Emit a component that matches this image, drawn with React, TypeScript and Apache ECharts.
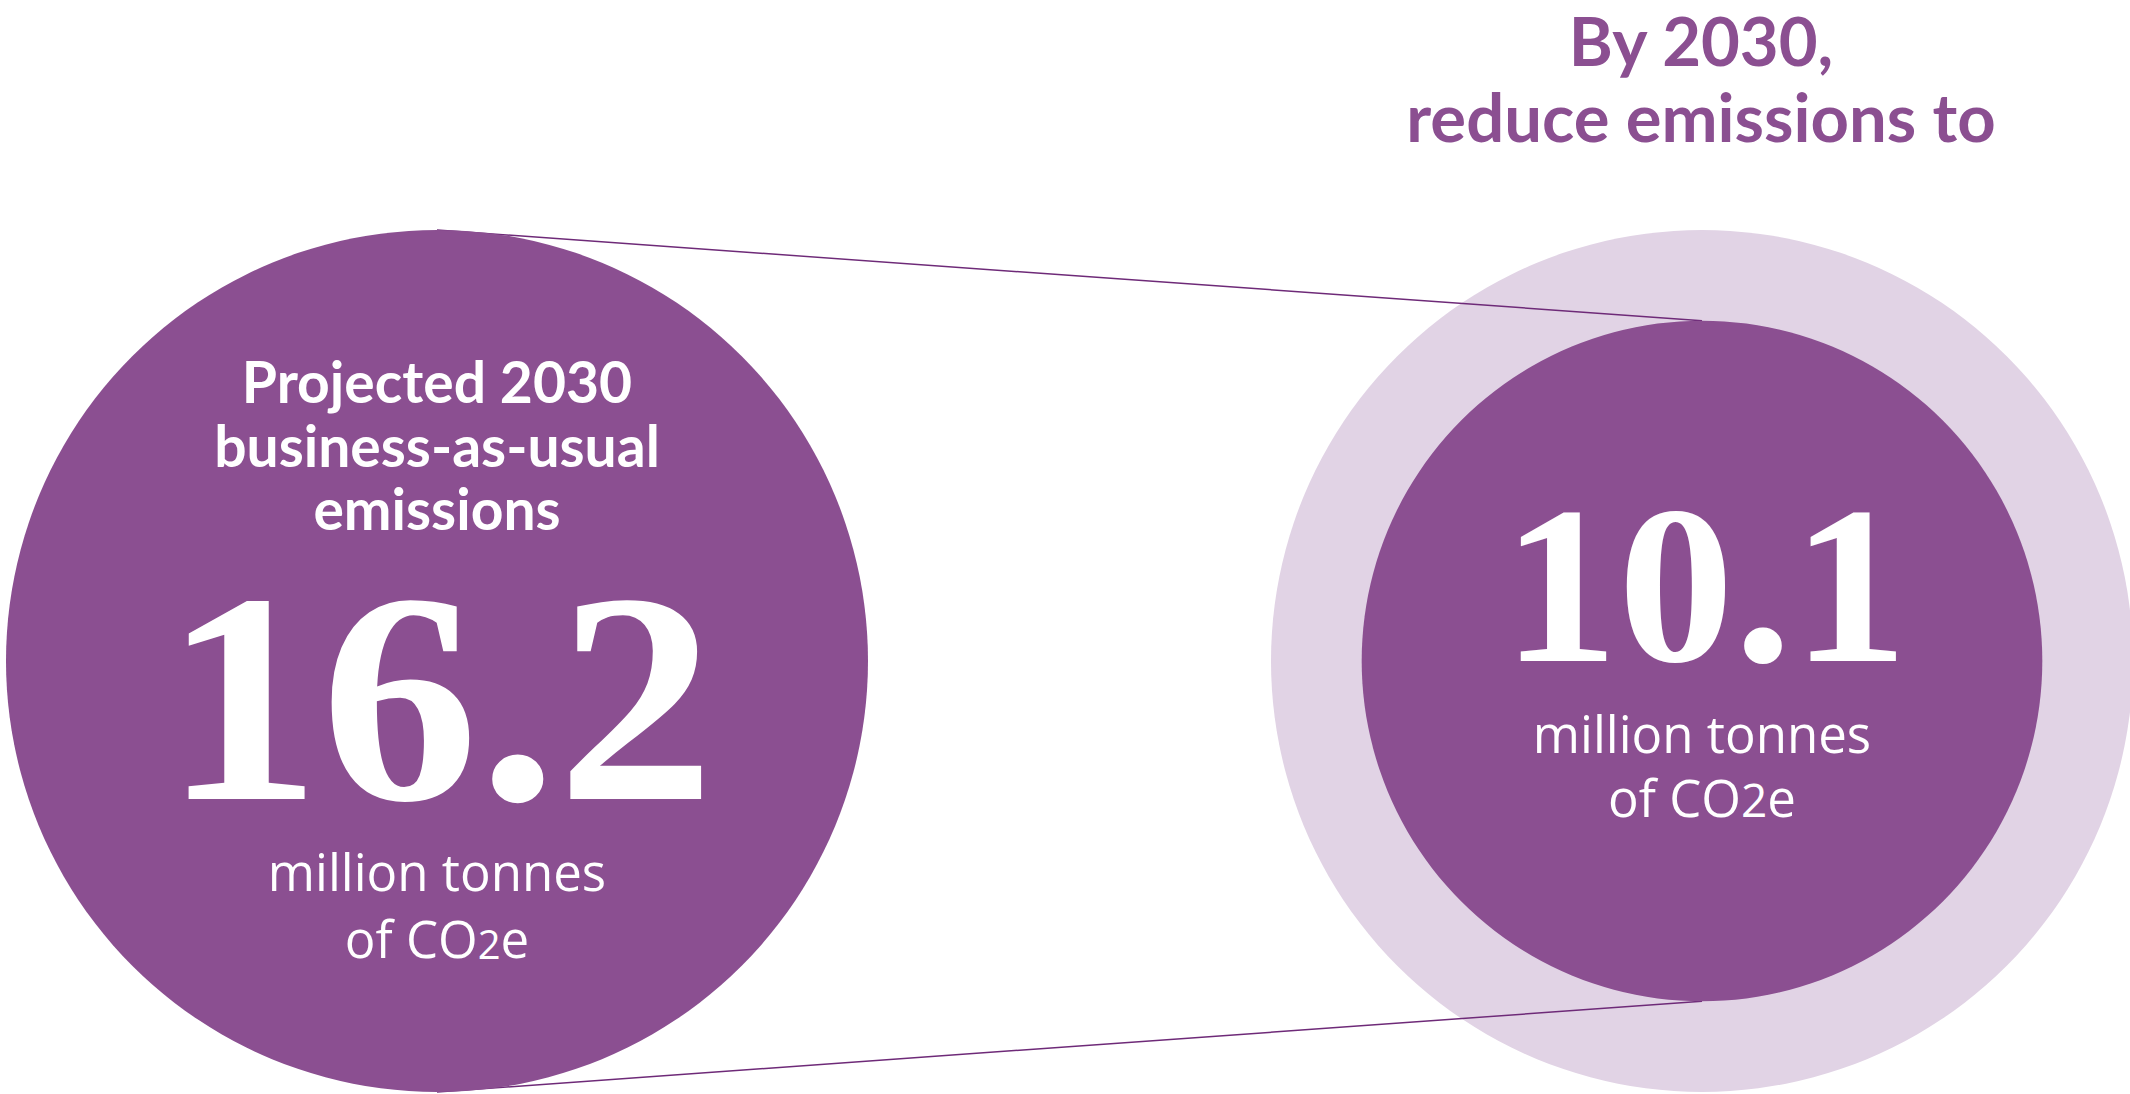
import React, { useEffect, useRef } from "react";
import * as echarts from "echarts";

// ---- data ----
const categories = ["Projected 2030 business-as-usual emissions", "2030 target"];
const emissions = [16.2, 10.1]; // million tonnes of CO2e
const referenceValue = 16.2; // business-as-usual level shown behind the target
const titleLines = ["By 2030,", "reduce emissions to"];
const headingLines = ["Projected 2030", "business-as-usual", "emissions"];
const unitLines = ["million tonnes", "of CO"];

const PURPLE = "#8b4f91";
const LIGHT = "#e1d3e5";
const LINE = "#6e2a78";
const MAX_RADIUS = 431; // pixel radius of the largest value (area-proportional)

const radiusOf = (v: number) => MAX_RADIUS * Math.sqrt(v / referenceValue);

export default function App() {
  const ref = useRef<HTMLDivElement>(null);
  useEffect(() => {
    if (!ref.current) return;
    const chart = echarts.init(ref.current, undefined, { renderer: "svg" });
    const Y = 0.5;
    const option: any = {
      animation: false,
      backgroundColor: "#ffffff",
      grid: { left: 437, right: 428, top: 230, bottom: 2 },
      xAxis: { type: "category", data: categories, boundaryGap: false, show: false },
      yAxis: { type: "value", min: 0, max: 1, show: false },
      graphic: titleLines.map((t, k) => ({
        type: "text",
        x: 1701,
        y: 40 + k * 76,
        style: {
          text: t,
          font: "bold 67px Lato",
          fill: PURPLE,
          align: "center",
          verticalAlign: "middle",
          lineHeight: 56,
        },
      })),
      series: [
        {
          type: "scatter",
          name: "reference",
          silent: true,
          z: 1,
          symbol: "circle",
          data: [[1, Y, referenceValue]],
          symbolSize: (val: number[]) => 2 * radiusOf(val[2]),
          itemStyle: { color: LIGHT, opacity: 1 },
        },
        {
          type: "custom",
          name: "connectors",
          silent: true,
          z: 2,
          data: [[0, Y]],
          renderItem: (params: any, api: any) => {
            const p0 = api.coord([0, Y]);
            const p1 = api.coord([1, Y]);
            const r0 = radiusOf(emissions[0]);
            const r1 = radiusOf(emissions[1]);
            const style = { stroke: LINE, lineWidth: 1.5, fill: "none" };
            return {
              type: "group",
              children: [
                { type: "line", shape: { x1: p0[0], y1: p0[1] - r0, x2: p1[0], y2: p1[1] - r1 }, style },
                { type: "line", shape: { x1: p0[0], y1: p0[1] + r0, x2: p1[0], y2: p1[1] + r1 }, style },
              ],
            };
          },
        },
        {
          type: "scatter",
          name: "emissions",
          silent: true,
          z: 3,
          symbol: "circle",
          data: emissions.map((v, i) => [i, Y, v]),
          symbolSize: (val: number[]) => 2 * radiusOf(val[2]),
          itemStyle: { color: PURPLE, opacity: 1 },
        },
        {
          type: "custom",
          name: "labels",
          silent: true,
          z: 4,
          data: emissions.map((v, i) => [i, Y, v]),
          renderItem: (params: any, api: any) => {
            const i = params.dataIndex;
            const c = api.coord([api.value(0), api.value(1)]);
            const cx = c[0];
            const cy = c[1];
            const value = api.value(2);
            const children: any[] = [];
            const plain = (dy: number, text: string) => ({
              type: "text",
              style: {
                x: cx,
                y: cy + dy,
                text,
                font: "400 51px 'Open Sans'",
                fill: "#ffffff",
                align: "center",
                verticalAlign: "middle",
                lineHeight: 56,
              },
            });
            const co2 = (dy: number, subSize: number, subLH: number) => ({
              type: "text",
              style: {
                x: cx,
                y: cy + dy,
                text: `{a|${unitLines[1]}}{s|2}{a|e}`,
                align: "center",
                verticalAlign: "middle",
                rich: {
                  a: { font: "400 51px 'Open Sans'", fill: "#ffffff", lineHeight: 60, verticalAlign: "bottom" },
                  s: { font: `400 ${subSize}px 'Open Sans'`, fill: "#ffffff", lineHeight: subLH, verticalAlign: "bottom" },
                },
              },
            });
            const big = (dx: number, dy: number, size: number, sx: number) => ({
              type: "text",
              x: cx + dx,
              y: cy + dy,
              scaleX: sx,
              style: {
                x: 0,
                y: 0,
                text: value.toFixed(1),
                font: `bold ${size}px 'Liberation Serif'`,
                fill: "#ffffff",
                align: "center",
                verticalAlign: "middle",
                lineHeight: size * 0.62,
              },
            });
            if (i === 0) {
              headingLines.forEach((t, k) => {
                children.push({
                  type: "text",
                  style: {
                    x: cx,
                    y: cy - 280 + k * 63.5,
                    text: t,
                    font: "bold 57px Lato",
                    fill: "#ffffff",
                    align: "center",
                    verticalAlign: "middle",
                    lineHeight: 56,
                  },
                });
              });
              children.push(big(2, 37, 300, 1.05));
              children.push(plain(210, unitLines[0]));
              children.push(co2(272, 40, 38));
            } else {
              children.push(big(3, -76, 225, 1.03));
              children.push(plain(72, unitLines[0]));
              children.push(co2(131, 46, 40));
            }
            return { type: "group", children };
          },
        },
      ],
    };
    chart.setOption(option);
    return () => chart.dispose();
  }, []);
  return (
    <div
      ref={ref}
      style={{ position: "fixed", left: 0, top: 0, width: 2130, height: 1094, background: "#fff" }}
    />
  );
}
